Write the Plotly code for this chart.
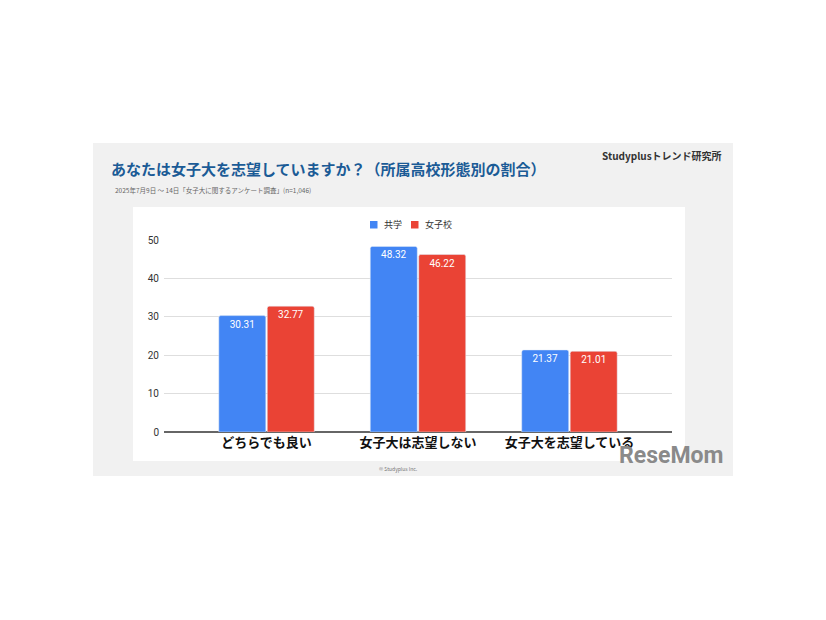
import plotly.graph_objects as go

categories = ["どちらでも良い", "女子大は志望しない", "女子大を志望している"]
coed = [30.31, 48.32, 21.37]
girls = [32.77, 46.22, 21.01]
series_names = ["共学", "女子校"]
y_ticks = [0, 10, 20, 30, 40, 50]

W, H = 826, 620
OFF = 8  # page body margin
PL, PR, PT, PB = 164 - OFF, 672 - OFF, 240 - OFF, 432 - OFF  # plot area pixels in figure


def px(x):
    return (x - OFF - PL) / (PR - PL)


def py(y):
    return (PB - (y - OFF)) / (PB - PT)


BLUE = "#4285F4"
RED = "#EA4335"
FONT = "Noto Sans CJK JP"
colors = [BLUE, RED]

fig = go.Figure()
for name, vals, col in zip(series_names, [coed, girls], colors):
    fig.add_trace(go.Bar(
        x=categories, y=vals, name=name, marker_color=col,
        text=[f"{v:.2f}" for v in vals], textposition="inside", insidetextanchor="end",
        textfont=dict(color="white", size=10, family="Roboto"), marker_cornerradius=2,
        showlegend=False,
    ))

shapes = [
    dict(type="rect", xref="paper", yref="paper", x0=px(93), x1=px(733), y0=py(476), y1=py(143),
         fillcolor="#f1f1f1", line=dict(width=0), layer="below"),
    dict(type="rect", xref="paper", yref="paper", x0=px(133), x1=px(685), y0=py(461), y1=py(207),
         fillcolor="#ffffff", line=dict(width=0), layer="below"),
]

annotations = [
    dict(text="<b>あなたは女子大を志望していますか？（所属高校形態別の割合）</b>", xref="paper", yref="paper",
         x=px(109), y=py(168), xanchor="left", yanchor="middle", showarrow=False,
         font=dict(size=15, color="#1b5b96", family=FONT)),
    dict(text="2025年7月9日 ～ 14日「女子大に関するアンケート調査」(n=1,046)", xref="paper", yref="paper",
         x=px(113), y=py(190), xanchor="left", yanchor="middle", showarrow=False,
         font=dict(size=6.5, color="#666666", family=FONT)),
    dict(text="<b>Studyplusトレンド研究所</b>", xref="paper", yref="paper",
         x=px(724), y=py(155), xanchor="right", yanchor="middle", showarrow=False,
         font=dict(size=10, color="#333333", family=FONT)),
    dict(text="© Studyplus Inc.", xref="paper", yref="paper",
         x=px(398), y=py(469), xanchor="center", yanchor="middle", showarrow=False,
         font=dict(size=5, color="#777777", family=FONT)),
    dict(text="<b>ReseMom</b>", xref="paper", yref="paper",
         x=px(671), y=py(455), xanchor="center", yanchor="middle", showarrow=False,
         font=dict(size=23, color="#8a8a8a", family="Roboto")),
]

# legend (drawn as swatches + labels)
legend_x = [370, 411]
for name, col, lx in zip(series_names, colors, legend_x):
    shapes.append(dict(type="rect", xref="paper", yref="paper", x0=px(lx), x1=px(lx + 7.5),
                       y0=py(228.5), y1=py(221), fillcolor=col, line=dict(width=0)))
    annotations.append(dict(text=name, xref="paper", yref="paper", x=px(lx + 12), y=py(224.5),
                            xanchor="left", yanchor="middle", showarrow=False,
                            font=dict(size=9, color="#333333", family=FONT)))

fig.update_layout(
    width=W, height=H,
    margin=dict(l=PL, r=W - PR, t=PT, b=H - PB, pad=0),
    paper_bgcolor="white", plot_bgcolor="rgba(0,0,0,0)",
    barmode="group", bargap=0.36, bargroupgap=0.03,
    font=dict(family=FONT),
    showlegend=False,
    shapes=shapes, annotations=annotations,
    xaxis=dict(type="category", range=[-0.677, 2.677], showgrid=False, showline=False,
               ticks="", tickfont=dict(size=13, color="#111111", family=FONT),
               ticklabelstandoff=1, fixedrange=True),
    yaxis=dict(range=[0, 50], tickvals=y_ticks, showgrid=True, gridcolor="#dedede", gridwidth=1,
               zeroline=True, zerolinecolor="#666666", zerolinewidth=1.5,
               tickfont=dict(size=10, color="#333333", family="Roboto"), ticks="",
               ticklabelstandoff=4, showline=False),
)
fig.update_xaxes(tickprefix="<b>", ticksuffix="</b>")

fig.write_html("out.html")
